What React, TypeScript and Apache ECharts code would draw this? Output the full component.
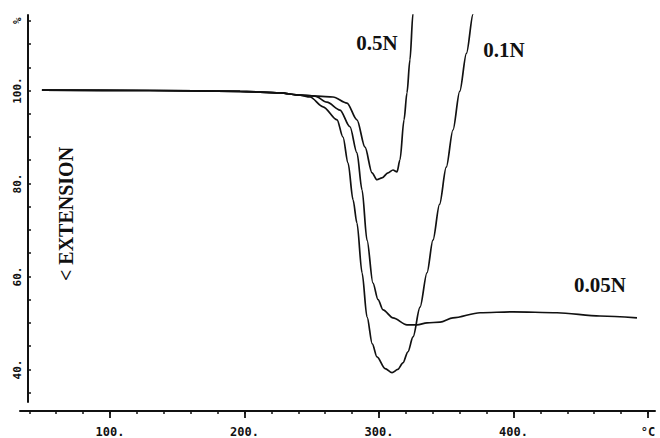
import React, { useEffect, useRef } from "react";
import * as echarts from "echarts";

// Temperature (°C) and extension (%)
const curve01N: [number, number][] = [
  [49.4, 100.1], [129.7, 100.0], [196.7, 99.8], [226.4, 99.5], [241.3, 99.0],
  [248.7, 98.6], [258.4, 96.5], [268.8, 93.7], [273.2, 90.0], [277.0, 84.4],
  [280.7, 76.5], [283.6, 71.5], [287.4, 60.8], [291.1, 51.3], [295.0, 45.5],
  [298.5, 42.7], [304.5, 40.2], [309.7, 39.3], [314.0, 40.0], [317.8, 41.4],
  [321.5, 43.8], [325.3, 47.0], [330.5, 53.4], [335.7, 60.8], [340.1, 67.8],
  [345.0, 75.5], [350.0, 83.5], [355.0, 91.5], [360.0, 99.8], [365.0, 108.0],
  [370.0, 116.5], [371.4, 119.5],
];

const curve005N: [number, number][] = [
  [49.4, 100.1], [129.7, 100.0], [196.7, 99.8], [226.4, 99.5], [241.3, 99.0],
  [252.4, 98.8], [261.3, 97.5], [271.0, 95.8], [278.4, 92.2], [283.6, 86.6],
  [287.4, 78.6], [291.1, 67.8], [295.5, 58.6], [299.3, 55.0], [303.0, 52.8],
  [310.4, 51.1], [320.8, 49.6], [328.3, 49.6], [335.7, 50.0], [345.4, 50.2],
  [355.0, 51.1], [375.1, 52.2], [399.6, 52.4], [432.3, 52.2], [464.3, 51.5],
  [491.8, 51.1],
];

const curve05N: [number, number][] = [
  [49.4, 100.1], [129.7, 100.0], [196.7, 99.8], [226.4, 99.5], [241.3, 99.0],
  [254.6, 98.8], [265.8, 98.6], [276.2, 97.3], [283.6, 93.7], [289.6, 87.8],
  [294.8, 82.3], [298.5, 80.8], [302.2, 81.2], [306.7, 82.3], [310.4, 82.9],
  [313.4, 82.5], [315.6, 85.1], [318.6, 93.7], [320.8, 99.5], [323.0, 106.6],
  [325.3, 116.7], [326.0, 119.5],
];

const xMajorTicks = [100, 200, 300, 400, 500];
const xMajorLabels: Record<number, string> = { 100: "100.", 200: "200.", 300: "300.", 400: "400.", 500: "°C" };
const xMinorTicks = [40, 60, 80, 100, 120, 140, 160, 180, 200, 220, 240, 260, 280, 300, 320, 340, 360, 380, 400, 420, 440, 460, 480, 500];
const yTicks = [35, 40, 45, 50, 55, 60, 65, 70, 75, 80, 85, 90, 95, 100, 105, 110, 115];
const yLabelValues = [40, 60, 80, 100, 115];
const yLabels: Record<number, string> = { 40: "40.", 60: "60.", 80: "80.", 100: "100.", 115: "%" };

export default function App() {
  const ref = useRef<HTMLDivElement>(null);
  useEffect(() => {
    if (!ref.current) return;
    const chart = echarts.init(ref.current, null, { renderer: "svg" });
    const lineStyle = { color: "#111", width: 1.7 };
    const mkSeries = (name: string, data: [number, number][]) => ({
      name,
      type: "line",
      xAxisIndex: 0,
      yAxisIndex: 0,
      data,
      showSymbol: false,
      symbol: "none",
      smooth: 0.3,
      smoothMonotone: "x",
      clip: true,
      lineStyle,
    });
    const labelFont = {
      fontFamily: "Liberation Serif",
      fontWeight: "bold",
      fontSize: 21,
      fill: "#111",
      align: "center",
      verticalAlign: "middle",
    };
    chart.setOption({
      animation: false,
      backgroundColor: "#fff",
      grid: [
        { left: 28, right: 5, top: 15, bottom: 36 },
        { left: 20, right: 5, top: 15, bottom: 27 },
      ],
      xAxis: [
        { gridIndex: 0, type: "value", min: 39.03, max: 505.2, show: false },
        {
          gridIndex: 1,
          type: "value",
          position: "bottom",
          min: 33.09,
          max: 505.2,
          axisLine: { show: true, onZero: false, lineStyle: { color: "#111", width: 2 } },
          axisTick: { show: true, inside: false, length: 7, customValues: xMajorTicks, lineStyle: { color: "#111", width: 1.8 } },
          axisLabel: {
            show: true,
            customValues: xMajorTicks,
            formatter: (v: number) => xMajorLabels[v] ?? "",
            margin: 15,
            fontFamily: "DejaVu Sans Mono",
            fontWeight: "bold",
            fontSize: 12,
            color: "#111",
          },
          splitLine: { show: false },
        },
        {
          gridIndex: 1,
          type: "value",
          position: "bottom",
          min: 33.09,
          max: 505.2,
          axisLine: { show: false, onZero: false },
          axisTick: { show: true, inside: false, length: 3, customValues: xMinorTicks, lineStyle: { color: "#111", width: 1.5 } },
          axisLabel: { show: false },
          splitLine: { show: false },
        },
      ],
      yAxis: [
        {
          gridIndex: 0,
          type: "value",
          min: 33.0,
          max: 116.24,
          axisLine: { show: true, onZero: false, lineStyle: { color: "#111", width: 2 } },
          axisTick: { show: true, inside: true, length: 3, customValues: yTicks, lineStyle: { color: "#111", width: 1.5 } },
          axisLabel: {
            show: true,
            customValues: yLabelValues,
            formatter: (v: number) => yLabels[v] ?? "",
            rotate: 90,
            margin: 5,
            fontFamily: "DejaVu Sans Mono",
            fontWeight: "bold",
            fontSize: 11,
            color: "#111",
          },
          splitLine: { show: false },
        },
        { gridIndex: 1, type: "value", min: 0, max: 1, show: false },
      ],
      series: [
        mkSeries("0.1N", curve01N),
        mkSeries("0.05N", curve005N),
        mkSeries("0.5N", curve05N),
      ],
      graphic: [
        { type: "text", x: 377, y: 43, style: { ...labelFont, text: "0.5N" } },
        { type: "text", x: 504, y: 50, style: { ...labelFont, text: "0.1N" } },
        { type: "text", x: 600, y: 285, style: { ...labelFont, text: "0.05N" } },
        {
          type: "text",
          x: 66,
          y: 214,
          rotation: Math.PI / 2,
          style: { ...labelFont, fontSize: 20, text: "< EXTENSION" },
        },
      ],
    });
    return () => chart.dispose();
  }, []);
  return (
    <div
      ref={ref}
      style={{ position: "fixed", left: 0, top: 0, width: 660, height: 438, background: "#fff" }}
    />
  );
}
